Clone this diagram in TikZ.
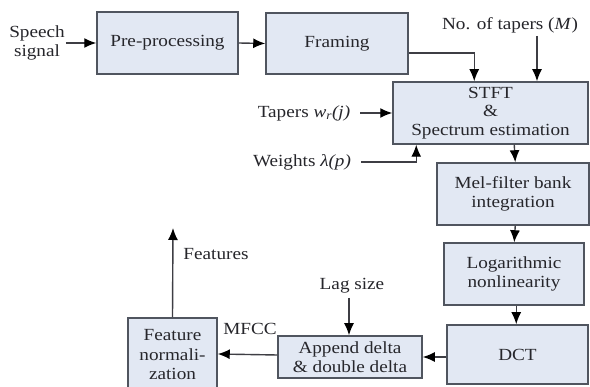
\documentclass[tikz,border=0pt]{standalone}
\usepackage{fontspec}
\setmainfont{Liberation Serif}[FakeStretch=1.13]
\usetikzlibrary{arrows.meta,calc}
\definecolor{boxfill}{HTML}{E2E8F3}
\definecolor{boxline}{HTML}{50555F}
\definecolor{txt}{HTML}{26262B}
\definecolor{wire}{HTML}{3E3E44}
\begin{document}
\begin{tikzpicture}[x=1pt,y=-1pt,
  font=\fontsize{17}{19.5}\selectfont, text=txt,
  blk/.style={draw=boxline, fill=boxfill, line width=1.5pt, align=center, inner sep=0pt},
  lbl/.style={align=center, inner sep=1pt},
  arr/.style={draw=wire, line width=1.4pt, -{Latex[length=12pt,width=10pt,black]}},
  wireline/.style={draw=wire, line width=1.4pt}]
\useasboundingbox (0,0) rectangle (590,387);
\clip (0,0) rectangle (590,387);
\fill[white] (0,0) rectangle (590,387);
% blocks
\node[blk, minimum width=141pt, minimum height=62pt] (pre) at (167.5,43) {Pre-processing};
\node[blk, minimum width=142pt, minimum height=61pt] (fram) at (337,43.5) {Framing};
\node[blk, minimum width=195pt, minimum height=62pt] (stft) at (490.5,113) {STFT\\[-1pt]\&\\[-1pt]Spectrum estimation};
\node[blk, minimum width=152pt, minimum height=62pt] (mel) at (513,194) {Mel-filter bank\\integration};
\node[blk, minimum width=140pt, minimum height=62pt] (log) at (514,274) {Logarithmic\\nonlinearity};
\node[blk, minimum width=141pt, minimum height=59pt] (dct) at (517.5,354.5) {DCT};
\node[blk, minimum width=144pt, minimum height=42pt] (app) at (350,357) {Append delta\\\& double delta};
\node[blk, minimum width=89pt, minimum height=74pt] (feat) at (172.5,355) {Feature\\normali-\\zation};
% labels
\node[lbl, font=\fontsize{17}{19}\selectfont] (speech) at (37,43) {Speech\\signal};
\node[lbl] (ntap) at (510,25) {No. of tapers (\textit{M})};
\node[lbl] (taper) at (304,113) {Tapers \textit{w}\textsubscript{\textit{r}}\textit{(j)}};
\node[lbl] (weights) at (302,162) {Weights \textit{λ(p)}};
\node[lbl] (mfcc) at (250,329) {MFCC};
\node[lbl] (lag) at (352,286) {Lag size};
\node[lbl] (featlbl) at (216,254) {Features};
\coordinate (ntapbase) at (537,36);
\coordinate (lagbase) at (349,298);
\coordinate (fout) at (173,228);
% connectors
\draw[arr] (speech.east) -- (pre.west);
\draw[arr] (pre.east) -- (fram.west);
\draw[arr] ($(fram.east)+(0,9.5)$) -| ($(stft.north west)+(82,0)$);
\draw[arr] (ntapbase) -- (ntapbase |- stft.north);
\draw[arr] ($(taper.east)+(9,0)$) -- (stft.west);
\draw[arr] ($(weights.east)+(9,0)$) -| ($(stft.south west)+(24,0)$);
\draw[arr] ($(stft.south west)+(122,0)$) -- ($(mel.north west)+(79,0)$);
\draw[arr] ($(mel.south west)+(79,0)$) -- ($(log.north west)+(71,0)$);
\draw[arr] ($(log.south west)+(73,0)$) -- ($(dct.north west)+(70,0)$);
\draw[arr] (dct.west |- app.east) -- (app.east);
\draw[arr] ($(app.west)+(0,-2)$) -- ($(feat.east)+(0,-1)$);
\draw[arr] (lagbase) -- (lagbase |- app.north);
\draw[arr] (feat.north) -- (fout);
\end{tikzpicture}
\end{document}
